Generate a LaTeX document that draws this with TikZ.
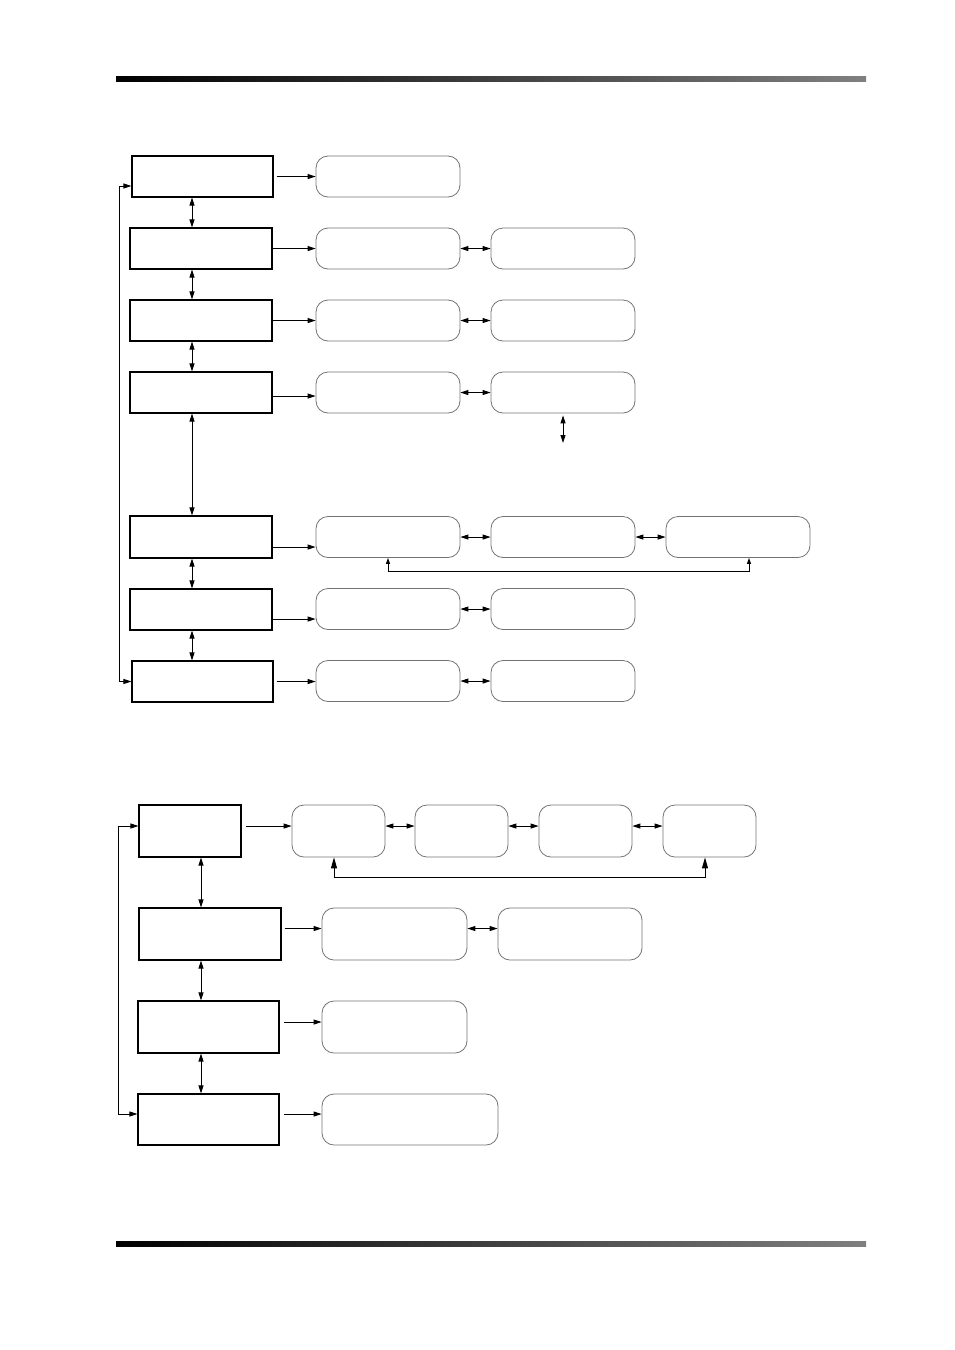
\documentclass[tikz,border=0pt]{standalone}
\usepackage{tikz}
\usetikzlibrary{arrows.meta}

\begin{document}
\begin{tikzpicture}[x=1pt,y=-1pt,
    box/.style={draw,line width=1.2pt,inner sep=0pt,minimum width=142pt,minimum height=41pt},
    rbox/.style={draw=black!55,line width=0.8pt,rounded corners=12pt,inner sep=0pt,minimum width=144pt,minimum height=41pt},
    tip/.tip={Triangle[length=8pt,width=5pt]},
    link/.style={-tip,line width=0.9pt},
    dlink/.style={tip-tip,line width=0.9pt},
    bus/.style={{Triangle[length=6pt,width=4pt]}-{Triangle[length=6pt,width=4pt]},line width=0.9pt},
    bigbus/.style={{Triangle[length=11pt,width=6pt]}-{Triangle[length=11pt,width=6pt]},line width=0.9pt}]
  \useasboundingbox (0,0) rectangle (954,1350);

  \shade[left color=black,middle color=black!88,right color=black!50] (116,76.5) rectangle (866,81.5);
  \shade[left color=black,middle color=black!88,right color=black!50] (116,1241.5) rectangle (866,1246.5);

  \coordinate (sp1) at (192,0);
  \coordinate (lp1) at (119,0);
  \coordinate (sp2) at (201,0);
  \coordinate (lp2) at (118,0);

      \node [box,minimum width=141pt] (l1) at (202.5,176.5) {};
      \node [box] (l2) at (201,248.5) {};
      \node [box] (l3) at (201,320.5) {};
      \node [box] (l4) at (201,392.5) {};
      \node [box,minimum height=42pt] (l5) at (201,537) {};
      \node [box] (l6) at (201,609.5) {};
      \node [box,minimum width=141pt] (l7) at (202.5,681.5) {};

      \node [rbox] (r11) at (388,176.5) {};
      \node [rbox] (r21) at (388,248.5) {};
      \node [rbox] (r22) at (563,248.5) {};
      \node [rbox] (r31) at (388,320.5) {};
      \node [rbox] (r32) at (563,320.5) {};
      \node [rbox] (r41) at (388,392.5) {};
      \node [rbox] (r42) at (563,392.5) {};
      \node [rbox] (r51) at (388,537) {};
      \node [rbox] (r52) at (563,537) {};
      \node [rbox] (r53) at (738,537) {};
      \node [rbox] (r61) at (388,609) {};
      \node [rbox] (r62) at (563,609) {};
      \node [rbox] (r71) at (388,681) {};
      \node [rbox] (r72) at (563,681) {};
      \coordinate (r42d) at (563,443);

      \draw[link,shorten <=3pt] (l1.east) -- (l1.east -| r11.west);
      \draw[link] (l2.east) -- (l2.east -| r21.west);
      \draw[link] (l3.east) -- (l3.east -| r31.west);
      \draw[link] ([yshift=-3.5pt]l4.east) -- ([yshift=-3.5pt]l4.east -| r41.west);
      \draw[link] ([yshift=-10pt]l5.east) -- ([yshift=-10pt]l5.east -| r51.west);
      \draw[link] ([yshift=-9.5pt]l6.east) -- ([yshift=-9.5pt]l6.east -| r61.west);
      \draw[link,shorten <=3pt] (l7.east) -- (l7.east -| r71.west);

      \draw[dlink] (r21) -- (r22);
      \draw[dlink] (r31) -- (r32);
      \draw[dlink] (r41) -- (r42);
      \draw[dlink] (r51) -- (r52);
      \draw[dlink] (r52) -- (r53);
      \draw[dlink] (r61) -- (r62);
      \draw[dlink] (r71) -- (r72);
      \draw[dlink,shorten <=2pt] (r42.south) -- (r42d);
      \draw[bus] (r51.south) -- ++(0,14) -| ([xshift=11pt]r53.south);

      \draw[dlink] (l1.south -| sp1) -- (l2.north -| sp1);
      \draw[dlink] (l2.south -| sp1) -- (l3.north -| sp1);
      \draw[dlink] (l3.south -| sp1) -- (l4.north -| sp1);
      \draw[dlink] (l4.south -| sp1) -- (l5.north -| sp1);
      \draw[dlink] (l5.south -| sp1) -- (l6.north -| sp1);
      \draw[dlink] (l6.south -| sp1) -- (l7.north -| sp1);
      \draw[dlink] ([yshift=-9.5pt]l1.west) -- ([yshift=-9.5pt]l1.west -| lp1) |- (l7.west);

      \node [box,minimum width=102pt,minimum height=52pt] (c1) at (190,831) {};
      \node [box,minimum height=52pt] (c2) at (210,934) {};
      \node [box,minimum width=141pt,minimum height=52pt] (c3) at (208.5,1027) {};
      \node [box,minimum width=141pt,minimum height=51pt] (c4) at (208.5,1119.5) {};

      \node [rbox,minimum width=93pt,minimum height=52pt] (s11) at (338.5,831) {};
      \node [rbox,minimum width=93pt,minimum height=52pt] (s12) at (461.5,831) {};
      \node [rbox,minimum width=93pt,minimum height=52pt] (s13) at (585.5,831) {};
      \node [rbox,minimum width=93pt,minimum height=52pt] (s14) at (709.5,831) {};
      \node [rbox,minimum width=145pt,minimum height=52pt] (s21) at (394.5,934) {};
      \node [rbox,minimum width=144pt,minimum height=52pt] (s22) at (570,934) {};
      \node [rbox,minimum width=145pt,minimum height=52pt] (s31) at (394.5,1027) {};
      \node [rbox,minimum width=176pt,minimum height=51pt] (s41) at (410,1119.5) {};

      \draw[link,shorten <=4pt] ([yshift=5pt]c1.east) -- ([yshift=5pt]c1.east -| s11.west);
      \draw[link,shorten <=3pt] ([yshift=5.5pt]c2.east) -- ([yshift=5.5pt]c2.east -| s21.west);
      \draw[link,shorten <=4pt] ([yshift=5pt]c3.east) -- ([yshift=5pt]c3.east -| s31.west);
      \draw[link,shorten <=4pt] ([yshift=5.5pt]c4.east) -- ([yshift=5.5pt]c4.east -| s41.west);

      \draw[dlink] ([yshift=5pt]s11.east) -- ([yshift=5pt]s12.west);
      \draw[dlink] ([yshift=5pt]s12.east) -- ([yshift=5pt]s13.west);
      \draw[dlink] ([yshift=5pt]s13.east) -- ([yshift=5pt]s14.west);
      \draw[dlink] ([yshift=5.5pt]s21.east) -- ([yshift=5.5pt]s22.west);
      \draw[bigbus] ([xshift=-4.5pt]s11.south) -- ++(0,20) -| ([xshift=-4.5pt]s14.south);

      \draw[dlink] (c1.south -| sp2) -- (c2.north -| sp2);
      \draw[dlink] (c2.south -| sp2) -- (c3.north -| sp2);
      \draw[dlink] (c3.south -| sp2) -- (c4.north -| sp2);
      \draw[dlink] ([yshift=5pt]c1.west) -- ([yshift=5pt]c1.west -| lp2) |- ([yshift=5.5pt]c4.west);
    \end{tikzpicture}
\end{document}
